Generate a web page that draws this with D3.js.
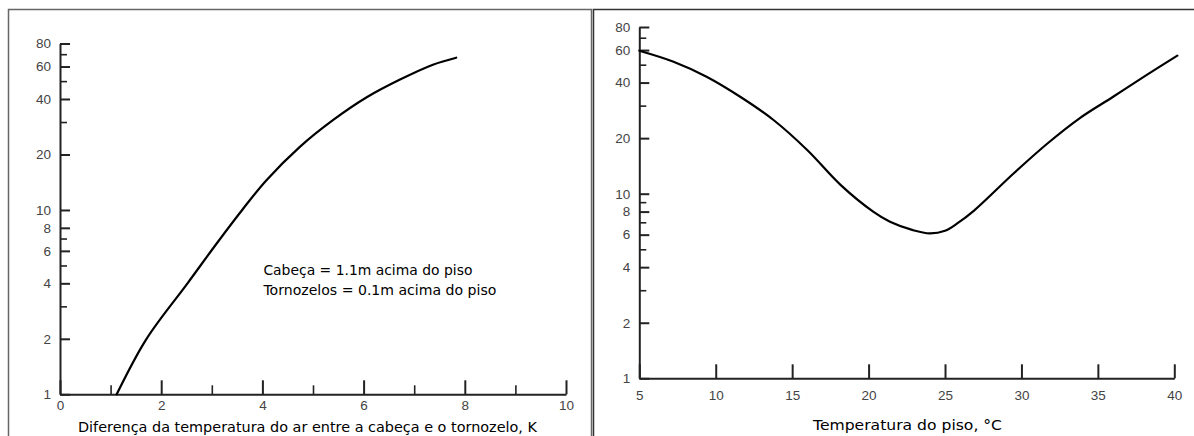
<!DOCTYPE html>
<html>
<head>
<meta charset="utf-8">
<script src="https://cdn.jsdelivr.net/npm/d3@7"></script>
<style>
  body { margin: 0; background: #fff; }
  svg { display: block; }
  .tick text { font-family: "Liberation Sans", Arial, sans-serif; font-size: 13.5px; fill: #444; }
  .domain { stroke: #222; stroke-width: 2; }
  .tick line { stroke: #222; stroke-width: 2; }
  .minor .tick line { stroke-width: 1.6; }
  .title { font-family: "DejaVu Sans", sans-serif; font-size: 13.5px; fill: #000; }
</style>
</head>
<body>
<script>
// left chart: % dissatisfied vs head-ankle temperature difference
const leftX = [1.12, 1.71, 2.52, 3.1, 3.6, 4.08, 4.74, 5.4, 6.07, 6.72, 7.37, 7.83];
const leftY = [1, 2.0, 4, 6.6, 10, 14.5, 22, 30.8, 41, 51, 61.4, 67];

// right chart: % dissatisfied vs floor temperature
const rightX = [5, 7.2, 9.4, 11.6, 13.8, 16, 18.2, 20.3, 21.4, 22.9, 24, 25, 25.8, 26.9, 29.5, 31.7, 33.8, 36, 38.2, 40.2];
const rightY = [59.5, 52, 43, 33.5, 25, 17.2, 11.1, 8.0, 7.05, 6.35, 6.1, 6.3, 6.9, 8.1, 12.9, 18.7, 25.6, 33.5, 44, 56];

const yMajor = [1, 2, 4, 6, 8, 10, 20, 40, 60, 80];
const leftYMinor = [3, 5, 7, 30, 50, 70];
const rightYMinor = [3, 5, 7, 9, 30, 50, 70];
const leftXMajor = [0, 2, 4, 6, 8, 10];
const leftXMinor = [1, 3, 5, 7, 9];
const rightXTicks = [5, 10, 15, 20, 25, 30, 35, 40];

const leftTitle = 'Diferença da temperatura do ar entre a cabeça e o tornozelo, K';
const rightTitle = 'Temperatura do piso, °C';
const noteLines = ['Cabeça = 1.1m acima do piso', 'Tornozelos = 0.1m acima do piso'];

const svg = d3.select('body').append('svg')
  .attr('width', 1194)
  .attr('height', 436);

// panel frames
svg.append('rect')
  .attr('x', 8.5).attr('y', 9.5).attr('width', 583).attr('height', 500)
  .attr('fill', 'none').attr('stroke', '#666').attr('stroke-width', 1.5);
svg.append('rect')
  .attr('x', 593.5).attr('y', 9.5).attr('width', 700).attr('height', 500)
  .attr('fill', 'none').attr('stroke', '#333').attr('stroke-width', 1.5);

function drawPanel(opts) {
  const x = d3.scaleLinear().domain(opts.xDomain).range(opts.xRange);
  const y = d3.scaleLog().domain([1, 80]).range(opts.yRange);

  // y axis, ticks pointing inward
  svg.append('g')
    .attr('transform', `translate(${opts.xRange[0]},0)`)
    .call(d3.axisLeft(y).tickValues(yMajor).tickFormat(d3.format('d'))
      .tickSizeInner(-10).tickSizeOuter(0).tickPadding(9));
  const yMin = svg.append('g')
    .attr('class', 'minor')
    .attr('transform', `translate(${opts.xRange[0]},0)`)
    .call(d3.axisLeft(y).tickValues(opts.yMinor).tickFormat('')
      .tickSizeInner(-7).tickSizeOuter(0));
  yMin.select('.domain').remove();

  // x axis, ticks pointing up
  svg.append('g')
    .attr('transform', `translate(0,${opts.yRange[0]})`)
    .call(d3.axisBottom(x).tickValues(opts.xMajor)
      .tickSizeInner(-14).tickSizeOuter(0).tickPadding(opts.xPad));
  if (opts.xMinor) {
    const xMin = svg.append('g')
      .attr('class', 'minor')
      .attr('transform', `translate(0,${opts.yRange[0]})`)
      .call(d3.axisBottom(x).tickValues(opts.xMinor).tickFormat('')
        .tickSizeInner(-9).tickSizeOuter(0));
    xMin.select('.domain').remove();
  }

  const line = d3.line()
    .x((d, i) => x(opts.xs[i]))
    .y(d => y(d))
    .curve(d3.curveCatmullRom.alpha(0.5));
  svg.append('path')
    .datum(opts.ys)
    .attr('d', line)
    .attr('fill', 'none')
    .attr('stroke', '#000')
    .attr('stroke-width', 2.2)
    .attr('stroke-linecap', 'round');

  svg.append('text')
    .attr('class', 'title')
    .attr('x', opts.titleX).attr('y', opts.titleY)
    .attr('textLength', opts.titleLen).attr('lengthAdjust', 'spacingAndGlyphs')
    .text(opts.title);

  return { x, y };
}

const left = drawPanel({
  xDomain: [0, 10], xRange: [60, 566], yRange: [394.3, 43.5],
  yMinor: leftYMinor, xMajor: leftXMajor, xMinor: leftXMinor, xPad: 6,
  xs: leftX, ys: leftY,
  title: leftTitle, titleX: 78, titleY: 432, titleLen: 459
});

drawPanel({
  xDomain: [5, 40], xRange: [639.3, 1174.3], yRange: [378.3, 27],
  yMinor: rightYMinor, xMajor: rightXTicks, xMinor: null, xPad: 12,
  xs: rightX, ys: rightY,
  title: rightTitle, titleX: 813, titleY: 430, titleLen: 189
});

// note inside left panel
const noteLen = [209, 233];
svg.selectAll('.note')
  .data(noteLines)
  .enter()
  .append('text')
  .attr('class', 'title note')
  .attr('x', left.x(4) + 1)
  .attr('y', (d, i) => 275 + i * 19.5)
  .attr('textLength', (d, i) => noteLen[i])
  .attr('lengthAdjust', 'spacingAndGlyphs')
  .text(d => d);
</script>
</body>
</html>
